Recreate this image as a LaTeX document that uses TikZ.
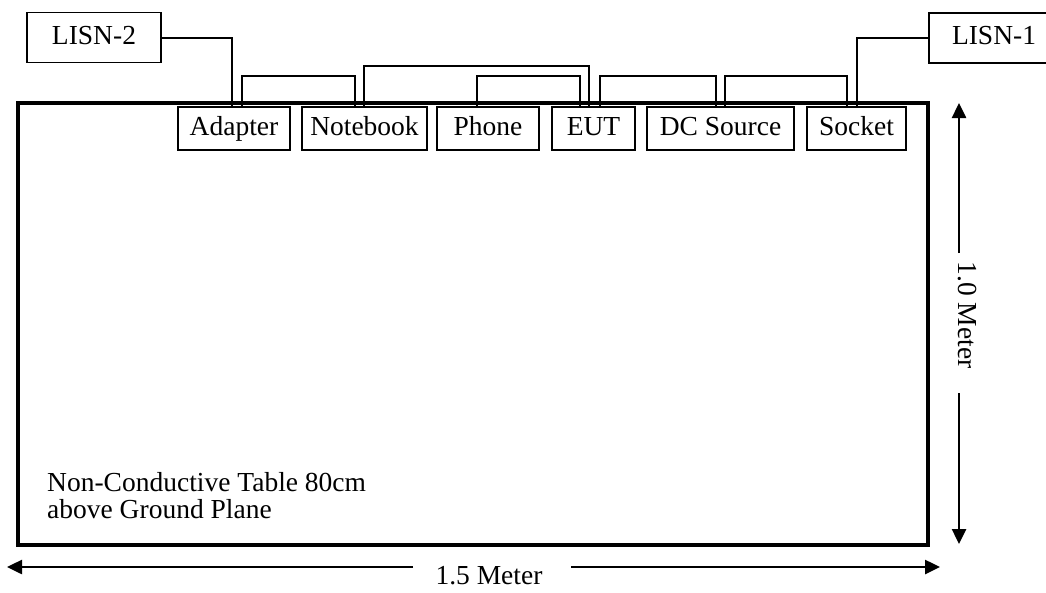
\documentclass[tikz,border=0pt]{standalone}
\usepackage{fontspec}
\setmainfont{Liberation Serif}
\usetikzlibrary{arrows.meta}
\begin{document}
\begin{tikzpicture}[x=1pt,y=-1pt,
  font=\fontsize{27.5}{27}\selectfont,
  box/.style={draw, line width=2pt, inner sep=0pt, minimum height=43pt,
              text height=19pt, text depth=6pt},
  lisn/.style={draw, line width=1.6pt, inner sep=0pt, minimum height=50pt,
              text height=19pt, text depth=6pt},
  wire/.style={line width=2pt},
  dim/.style={line width=2.5pt, -{Triangle[length=15pt,width=14pt]}}
]
\useasboundingbox (0,0) rectangle (1046,592);

% table
\node[draw, line width=4pt, inner sep=0pt, minimum width=910pt, minimum height=442pt] (table) at (473,324) {};
\node[anchor=north west, inner sep=0pt, align=left] (lbl) at (47,472)
  {Non-Conductive Table 80cm\\above Ground Plane};

% devices
\node[box, minimum width=112pt] (ad)  at (234,128.5)   {Adapter};
\node[box, minimum width=125pt] (nb)  at (364.5,128.5) {Notebook};
\node[box, minimum width=102pt] (ph)  at (488,128.5)   {Phone};
\node[box, minimum width=83pt]  (eut) at (593.5,128.5) {EUT};
\node[box, minimum width=147pt] (dc)  at (720.5,128.5) {DC Source};
\node[box, minimum width=99pt]  (so)  at (856.5,128.5) {Socket};

% LISNs
\node[lisn, minimum width=134pt] (l2) at (94,37.5) {LISN-2};
\node[lisn, minimum width=130pt] (l1) at (994,38) {LISN-1};

% wires
\draw[wire] (l2.east) -| ([xshift=-2pt]ad.north);
\draw[wire] (so.north) |- (l1.west);
\draw[wire] ([xshift=8pt]ad.north) -- ++(0,-30) -| ([xshift=-9.5pt]nb.north);
\draw[wire] ([xshift=-0.5pt]nb.north) -- ++(0,-40) -| ([xshift=-4.5pt]eut.north);
\draw[wire] ([xshift=-11pt]ph.north) -- ++(0,-30) -| ([xshift=-13.5pt]eut.north);
\draw[wire] ([xshift=6.5pt]eut.north) -- ++(0,-30) -| ([xshift=-4.5pt]dc.north);
\draw[wire] ([xshift=4.5pt]dc.north) -- ++(0,-30) -| ([xshift=-9.5pt]so.north);

% dimensions
\node[inner sep=0pt] (w) at (489,576) {1.5 Meter};
\coordinate (wl1) at (413,567);
\coordinate (wl)  at (7,567);
\coordinate (wr1) at (571,567);
\coordinate (wr)  at (940,567);
\draw[dim] (wl1) -- (wl);
\draw[dim] (wr1) -- (wr);

\node[inner sep=0pt, rotate=-90] (h) at (967,315) {1.0 Meter};
\coordinate (ht1) at (959,253);
\coordinate (ht)  at (959,103);
\coordinate (hb1) at (959,393);
\coordinate (hb)  at (959,544);
\draw[dim] (ht1) -- (ht);
\draw[dim] (hb1) -- (hb);
\end{tikzpicture}
\end{document}
